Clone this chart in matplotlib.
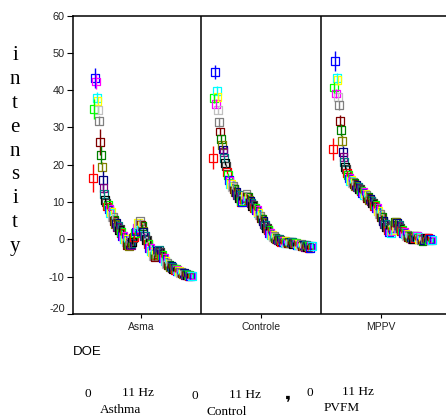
import numpy as np
import matplotlib
matplotlib.use('Agg')
import matplotlib.pyplot as plt

# groups on the x axis
groups = ['Asma', 'Controle', 'MPPV']

# intensity per frequency bin (0 .. 11 Hz)
asma = [16.4, 34.9, 43.3, 42.3, 38.0, 37.0, 34.7, 31.8, 26.2, 22.6, 19.5, 15.9, 13.7, 12.1,
        10.6, 9.9, 8.8, 9.1, 8.0, 8.2, 7.0, 7.3, 6.1, 6.0, 5.0, 5.1,
        4.2, 4.3, 3.4, 3.5, 2.6, 2.7,
        1.8, 1.9, 0.9, 1.0, 0.0, 0.1,
        -0.8, -0.7, -1.5, -1.3,
        -1.7, -1.2, -1.5, -0.9,
        -0.6, 0.3, 0.7, 1.8, 2.1, 3.1, 3.3, 4.3, 4.2, 4.9,
        4.0, 3.6, 2.3, 2.1, 1.0, 0.9,
        -0.1, -0.2, -1.2, -1.3, -2.2, -2.3,
        -3.2, -3.4, -4.4, -4.5,
        -4.8, -4.0, -4.1, -3.2, -3.3, -2.7,
        -3.3, -3.4, -4.2, -4.3, -4.9,
        -5.0, -5.7, -5.8, -6.5,
        -6.4, -7.0, -6.8, -7.3, -7.1, -7.6, -7.5, -7.9,
        -7.8, -8.2, -8.0, -8.4, -8.2, -8.6, -8.5, -8.9,
        -8.7, -9.1, -8.9, -9.3, -9.1, -9.5, -9.3, -9.7,
        -9.5, -9.8, -9.6, -9.9, -9.7, -9.8]

controle = [21.9, 37.8, 44.9, 36.3, 39.8, 38.2, 34.7, 31.4, 28.9, 26.9, 25.3, 24.1, 23.5, 21.7,
            20.4, 19.6, 18.0, 17.3, 16.0, 15.7,
            14.8, 14.8, 14.1, 14.2, 13.5, 13.6,
            12.8, 12.8, 12.0, 12.0, 11.1, 11.0, 10.1, 10.2,
            10.1, 10.9, 10.9, 11.7, 11.6, 12.1, 11.5,
            11.4, 10.5, 10.4, 9.6, 9.7, 9.0, 9.1, 8.4,
            8.5, 7.8, 7.9, 7.1, 7.2,
            6.4, 6.4, 5.6, 5.6, 4.8, 4.9,
            4.0, 3.9, 3.0, 3.0,
            2.4, 2.4, 1.7, 1.8, 1.1, 1.2, 0.7,
            0.8, 0.3, 0.5, 0.0, 0.2, -0.3, 0.0, -0.5, -0.2, -0.6,
            -0.3, -0.8, -0.4, -0.9, -0.5, -1.0, -0.6, -1.0, -0.7, -1.1, -0.8, -1.1, -0.8, -1.2, -0.9, -1.1,
            -1.0, -1.4, -1.1, -1.5, -1.2, -1.6, -1.3, -1.8, -1.4, -1.9, -1.5, -2.0,
            -1.6, -2.1, -1.7, -2.2, -1.8, -2.2, -1.8, -1.7]

mppv = [24.2, 40.7, 47.8, 39.1, 43.2, 42.7, 38.2, 36.0, 31.8, 29.3, 26.4, 23.5, 22.1, 20.8,
        19.4, 18.8, 17.7, 17.3, 16.3,
        16.4, 15.6, 15.9, 15.2, 15.4, 14.8,
        15.0, 14.3, 14.5, 13.9, 14.0, 13.4,
        13.6, 12.9, 13.1, 12.5, 12.6, 12.0,
        12.3, 11.5, 11.8, 11.0, 11.3, 10.6, 10.9, 10.2,
        10.4, 9.6, 9.8, 9.0, 9.2, 8.4,
        8.5, 7.6, 7.7, 6.8,
        6.8, 5.9, 5.9, 5.0,
        5.0, 4.1, 4.2, 3.3,
        3.4, 2.6, 2.8, 2.0, 2.3, 1.8,
        2.6, 2.8, 3.8, 3.9, 4.8, 4.6,
        4.5, 3.7, 3.8, 2.9, 3.0, 2.3,
        2.5, 1.8, 2.0, 1.3, 1.5, 1.0,
        1.2, 0.7, 0.9, 0.3, 0.5, 0.1,
        0.5, 0.2, 0.8, 0.4, 1.0, 0.5, 0.9,
        0.6, 0.1, 0.3, -0.3, 0.0, -0.4,
        0.0, -0.2, 0.3, 0.0, 0.5, 0.1,
        0.4, -0.1, 0.2, -0.3, -0.1]

# error bar half widths for the first bins, the rest are small
asma_err = [3.7, 2.7, 2.7, 2.0, 1.5, 1.2, 1.2, 1.2, 3.5, 2.5, 1.2, 2.5, 1.2, 1.0]
controle_err = [3.0, 1.2, 1.8, 1.2, 1.2, 1.0, 1.0, 1.2, 1.0, 1.0, 1.0, 1.0, 1.0, 1.0]
mppv_err = [3.0, 1.5, 2.8, 1.2, 1.5, 1.2, 1.2, 1.2, 1.5, 1.5, 1.5, 1.5, 1.2, 1.0]
dense_err = 0.6

yticks = [-20, -10, 0, 10, 20, 30, 40, 50, 60]

palette = ['#FF0000', '#00FF00', '#0000FF', '#FF00FF', '#00FFFF', '#FFFF00',
           '#C0C0C0', '#808080', '#800000', '#008000', '#808000', '#000080',
           '#800080', '#008080', '#000000', '#404040']

W, H = 446, 417
fig = plt.figure(figsize=(W / 100, H / 100), dpi=100)
ax = fig.add_axes([73 / W, 1 - 314 / H, 373 / W, (314 - 15.5) / H])

for g, (vals, head) in enumerate([(asma, asma_err), (controle, controle_err), (mppv, mppv_err)]):
    v = np.array(vals)
    n = len(v)
    x = g + 0.1025 + np.arange(n) * 0.00708
    err = np.array(head + [dense_err] * (n - len(head)))
    cols = [palette[i % len(palette)] for i in range(n)]
    ax.vlines(x, v - err, v + err, colors=cols, lw=1.0)
    ax.scatter(x, v, marker='s', s=32, facecolors='none', edgecolors=cols, linewidths=0.9)

for b in [1, 2]:
    ax.axvline(b, color='black', lw=1.1)

ax.set_xlim(-8 / 120, 3 + 5 / 120)
ax.set_ylim(-20, 60)
ax.spines['right'].set_visible(False)
for s in ['left', 'top', 'bottom']:
    ax.spines[s].set_linewidth(1.1)

ax.set_xticks([0.5, 1.5, 2.5], groups, family='Liberation Sans')
ax.set_yticks(yticks, [str(t) for t in yticks], family='Liberation Sans')
ax.tick_params(axis='x', length=3, width=0.8, labelsize=7.5, pad=3, labelcolor='#222222')
ax.tick_params(axis='y', length=4, width=0.8, labelsize=7.8, pad=2, labelcolor='#222222')
ax.get_yticklabels()[0].set_va('bottom')

fig.text(15 / W, 1 - 151 / H, 'i\nn\nt\ne\nn\ns\ni\nt\ny', family='Liberation Serif',
         fontsize=15, ha='center', va='center', multialignment='center', linespacing=1.35)
fig.text(73 / W, 1 - 352 / H, 'DOE', family='Liberation Sans', fontsize=9.5,
         ha='left', va='center')

serif = dict(family='Liberation Serif', fontsize=9.5, ha='center', va='center')
fig.text(88 / W, 1 - 394 / H, '0', **serif)
fig.text(138 / W, 1 - 393 / H, '11 Hz', **serif)
fig.text(121 / W, 1 - 410 / H, 'Asthma', **serif)
fig.text(195 / W, 1 - 396 / H, '0', **serif)
fig.text(245 / W, 1 - 395 / H, '11 Hz', **serif)
fig.text(227 / W, 1 - 412 / H, 'Control', **serif)
fig.text(288 / W, 1 - 404 / H, '\u275c', family='DejaVu Sans', fontsize=13,
         fontweight='bold', ha='center', va='center')
fig.text(310 / W, 1 - 393 / H, '0', **serif)
fig.text(358 / W, 1 - 392 / H, '11 Hz', **serif)
fig.text(342 / W, 1 - 408 / H, 'PVFM', **serif)

fig.savefig('out.png', dpi=100)
